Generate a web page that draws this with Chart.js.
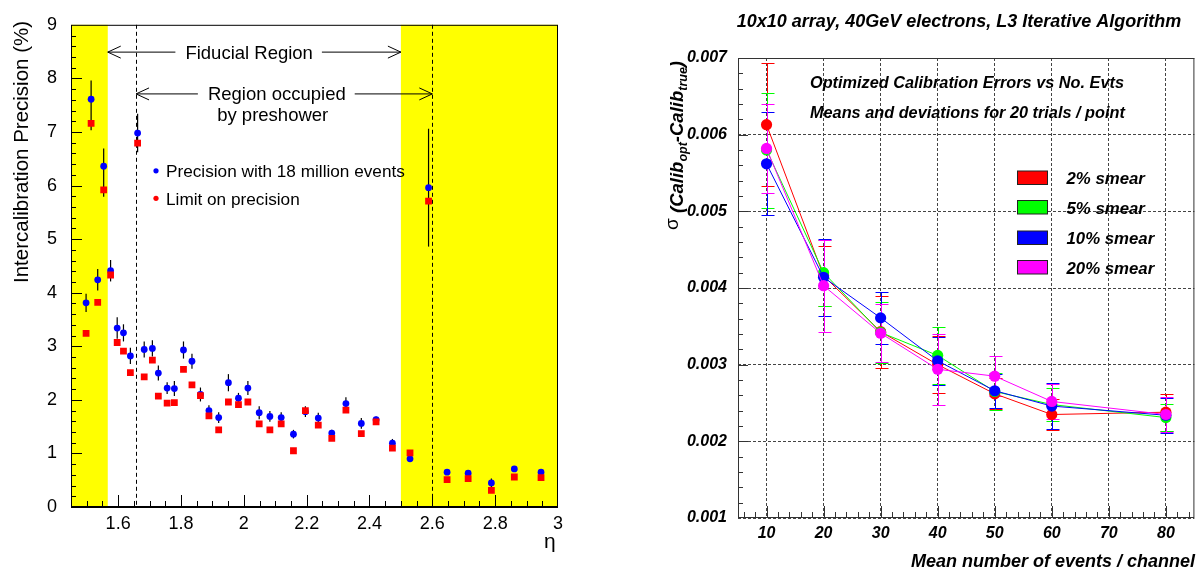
<!DOCTYPE html>
<html>
<head>
<meta charset="utf-8">
<title>Intercalibration precision / L3 iterative calibration</title>
<script src="https://cdn.jsdelivr.net/npm/chart.js@4.4.1/dist/chart.umd.min.js"></script>
<style>
  html, body { margin: 0; padding: 0; background: #fff; }
  #wrap { position: relative; width: 1200px; height: 569px; }
  canvas { position: absolute; top: 0; }
  #etaChart { left: 0; }
  #calibChart { left: 600px; }
</style>
</head>
<body>
<div id="wrap">
  <canvas id="etaChart" width="600" height="569"></canvas>
  <canvas id="calibChart" width="600" height="569"></canvas>
</div>
<script>
// ---- intercalibration precision vs eta ----
const etaValues = [1.498, 1.514, 1.535, 1.554, 1.576, 1.597, 1.617, 1.639, 1.662, 1.683,
  1.709, 1.728, 1.756, 1.779, 1.808, 1.835, 1.862, 1.889, 1.920, 1.951,
  1.983, 2.013, 2.049, 2.083, 2.119, 2.158, 2.196, 2.237, 2.280, 2.325,
  2.374, 2.421, 2.473, 2.529, 2.588, 2.647, 2.714, 2.788, 2.861, 2.946];
const precision18M = [3.81, 7.61, 4.24, 6.36, 4.41, 3.34, 3.25, 2.82, 6.98, 2.94,
  2.96, 2.50, 2.22, 2.21, 2.93, 2.72, 2.10, 1.80, 1.67, 2.32,
  2.03, 2.22, 1.76, 1.69, 1.67, 1.36, 1.78, 1.66, 1.38, 1.93,
  1.56, 1.63, 1.19, 0.90, 5.96, 0.65, 0.63, 0.45, 0.71, 0.65];
const precisionLimit = [3.24, 7.16, 3.82, 5.92, 4.33, 3.07, 2.91, 2.51, 6.79, 2.43,
  2.74, 2.07, 1.94, 1.95, 2.57, 2.28, 2.08, 1.70, 1.44, 1.96,
  1.91, 1.96, 1.55, 1.44, 1.55, 1.05, 1.80, 1.53, 1.28, 1.81,
  1.37, 1.59, 1.10, 1.01, 5.71, 0.51, 0.53, 0.31, 0.56, 0.55];
const precisionErrUp = [0.17, 0.35, 0.20, 0.33, 0.20, 0.20, 0.16, 0.15, 0.36, 0.15,
  0.15, 0.14, 0.11, 0.14, 0.16, 0.14, 0.13, 0.10, 0.10, 0.16,
  0.10, 0.13, 0.12, 0.10, 0.10, 0.08, 0.10, 0.10, 0.06, 0.12,
  0.10, 0.06, 0.08, 0.05, 1.10, 0.04, 0.03, 0.08, 0.04, 0.04];
const precisionErrDown = [0.17, 0.58, 0.20, 0.57, 0.20, 0.20, 0.16, 0.15, 0.36, 0.15,
  0.15, 0.14, 0.11, 0.14, 0.16, 0.14, 0.13, 0.10, 0.10, 0.16,
  0.10, 0.13, 0.12, 0.10, 0.10, 0.08, 0.10, 0.10, 0.06, 0.12,
  0.10, 0.06, 0.08, 0.05, 1.10, 0.04, 0.03, 0.08, 0.04, 0.04];
const etaTicks = [1.6, 1.8, 2.0, 2.2, 2.4, 2.6, 2.8, 3.0];
const precisionTicks = [0, 1, 2, 3, 4, 5, 6, 7, 8, 9];
const yellowBands = [[1.45, 1.567], [2.5, 3.0]];
const fiducialRange = [1.567, 2.5];
const preshowerRange = [1.657, 2.6];

// ---- L3 iterative algorithm, 10x10 array, 40GeV electrons ----
const eventsPerChannel = [10, 20, 30, 40, 50, 60, 80];
const smearLabels = ['2% smear', '5% smear', '10% smear', '20% smear'];
const smear2 = [0.00613, 0.00416, 0.00343, 0.00300, 0.00262, 0.00235, 0.00238];
const smear5 = [0.00580, 0.00420, 0.00342, 0.00312, 0.00265, 0.00248, 0.00231];
const smear10 = [0.00562, 0.00414, 0.00361, 0.00305, 0.00266, 0.00246, 0.00234];
const smear20 = [0.00582, 0.00403, 0.00341, 0.00294, 0.00285, 0.00252, 0.00235];
const smear2Err = [0.00080, 0.00039, 0.00047, 0.00037, 0.00020, 0.00020, 0.00024];
const smear5Err = [0.00075, 0.00043, 0.00040, 0.00037, 0.00024, 0.00022, 0.00018];
const smear10Err = [0.00067, 0.00050, 0.00034, 0.00031, 0.00022, 0.00030, 0.00023];
const smear20Err = [0.00058, 0.00060, 0.00038, 0.00046, 0.00026, 0.00023, 0.00023];
const eventTicks = [10, 20, 30, 40, 50, 60, 70, 80];
const sigmaTicks = [0.001, 0.002, 0.003, 0.004, 0.005, 0.006, 0.007];

const smearColors = ['#ff0000', '#00ff00', '#0000ff', '#ff00ff'];
const SANS = '"Liberation Sans", Arial, Helvetica, sans-serif';

function font(size, bold, italic) {
  return (italic ? 'italic ' : '') + (bold ? 'bold ' : '') + size + 'px ' + SANS;
}

function fixedTicks(values) {
  return scale => { scale.ticks = values.map(v => ({ value: v })); };
}

function line(ctx, x1, y1, x2, y2) {
  ctx.beginPath();
  ctx.moveTo(x1, y1);
  ctx.lineTo(x2, y2);
  ctx.stroke();
}

// calls fn for every minor step between min and max (ends excluded)
function eachTick(min, max, step, majorStep, fn) {
  const k0 = Math.ceil(min / step - 1e-6), k1 = Math.floor(max / step + 1e-6);
  for (let k = k0; k <= k1; k++) {
    const v = k * step;
    if (Math.abs(v - min) < step * 1e-3 || Math.abs(v - max) < step * 1e-3) continue;
    const r = v / majorStep;
    fn(v, Math.abs(r - Math.round(r)) < 1e-6);
  }
}

function arrowHead(ctx, tipX, tipY, dir) {
  ctx.beginPath();
  ctx.moveTo(tipX - dir * 13, tipY - 6);
  ctx.lineTo(tipX, tipY);
  ctx.lineTo(tipX - dir * 13, tipY + 6);
  ctx.stroke();
}

function labelledArrow(ctx, xFrom, xTo, yPix, text, textX) {
  const w = ctx.measureText(text).width;
  ctx.textAlign = 'center';
  ctx.fillText(text, textX, yPix + 6.5);
  line(ctx, xFrom, yPix, textX - w / 2 - 10, yPix);
  line(ctx, textX + w / 2 + 9, yPix, xTo, yPix);
  arrowHead(ctx, xFrom, yPix, -1);
  arrowHead(ctx, xTo, yPix, 1);
}

const etaDecor = {
  id: 'etaDecor',
  beforeDatasetsDraw(chart) {
    const { ctx, chartArea: a, scales: { x, y } } = chart;
    ctx.save();
    ctx.fillStyle = '#ffff00';
    yellowBands.forEach(([from, to]) => {
      const x1 = x.getPixelForValue(from), x2 = x.getPixelForValue(to);
      ctx.fillRect(x1, a.top, x2 - x1, a.bottom - a.top);
    });
    ctx.strokeStyle = '#000';
    ctx.lineWidth = 1;
    ctx.setLineDash([4, 3]);
    preshowerRange.forEach(v => {
      const px = Math.round(x.getPixelForValue(v)) + 0.5;
      line(ctx, px, a.top, px, a.bottom);
    });
    ctx.setLineDash([]);
    ctx.lineWidth = 1.2;
    etaValues.forEach((eta, i) => {
      const px = x.getPixelForValue(eta);
      line(ctx, px, y.getPixelForValue(precision18M[i] + precisionErrUp[i]),
        px, y.getPixelForValue(precision18M[i] - precisionErrDown[i]));
    });
    ctx.restore();
  },
  afterDraw(chart) {
    const { ctx, chartArea: a, scales: { x, y } } = chart;
    ctx.save();
    ctx.strokeStyle = '#000';
    ctx.fillStyle = '#000';
    ctx.lineWidth = 1;
    eachTick(x.min, x.max, 0.05, 0.2, (v, major) => {
      const px = Math.round(x.getPixelForValue(v)) + 0.5;
      line(ctx, px, a.bottom, px, a.bottom - (major ? 12 : 6));
    });
    eachTick(y.min, y.max, 0.2, 1, (v, major) => {
      const py = Math.round(y.getPixelForValue(v)) + 0.5;
      line(ctx, a.left, py, a.left + (major ? 11 : 5), py);
    });
    ctx.strokeRect(a.left + 0.5, a.top + 0.5, a.right - a.left - 1, a.bottom - a.top - 1);
    ctx.lineWidth = 2;
    line(ctx, a.left, a.bottom, a.right, a.bottom);

    // region annotations
    ctx.lineWidth = 1;
    ctx.font = font(18.5);
    labelledArrow(ctx, x.getPixelForValue(fiducialRange[0]), x.getPixelForValue(fiducialRange[1]),
      y.getPixelForValue(8.49), 'Fiducial Region', x.getPixelForValue(2.017));
    labelledArrow(ctx, x.getPixelForValue(preshowerRange[0]), x.getPixelForValue(preshowerRange[1]),
      y.getPixelForValue(7.71), 'Region occupied', x.getPixelForValue(2.105));
    ctx.fillText('by preshower', x.getPixelForValue(2.092), y.getPixelForValue(7.71) + 27.5);

    // legend
    const lx = a.left + 85, ly = a.top + 146;
    ctx.fillStyle = '#0000ff';
    ctx.beginPath(); ctx.arc(lx, ly, 2.6, 0, Math.PI * 2); ctx.fill();
    ctx.fillStyle = '#ff0000';
    ctx.beginPath(); ctx.arc(lx, ly + 27.5, 2.6, 0, Math.PI * 2); ctx.fill();
    ctx.fillStyle = '#000';
    ctx.font = font(17.2);
    ctx.textAlign = 'left';
    ctx.fillText('Precision with 18 million events', lx + 10, ly + 6.5);
    ctx.fillText('Limit on precision', lx + 10, ly + 34);

    // axis titles
    ctx.font = font(21);
    ctx.fillText('\u03b7', a.right - 14, a.bottom + 41);
    ctx.font = font(20.5);
    ctx.translate(27.5, 283);
    ctx.rotate(-Math.PI / 2);
    ctx.fillText('Intercalibration Precision (%)', 0, 0);
    ctx.restore();
  }
};

new Chart(document.getElementById('etaChart'), {
  type: 'scatter',
  data: {
    datasets: [
      {
        label: 'Limit on precision',
        data: etaValues.map((eta, i) => ({ x: eta, y: precisionLimit[i] })),
        pointStyle: 'rect',
        pointRadius: 4.8,
        borderWidth: 0,
        backgroundColor: '#ff0000',
        order: 1
      },
      {
        label: 'Precision with 18 million events',
        data: etaValues.map((eta, i) => ({ x: eta, y: precision18M[i] })),
        pointStyle: 'circle',
        pointRadius: 3.4,
        borderWidth: 0,
        backgroundColor: '#0000ff',
        order: 2
      }
    ]
  },
  options: {
    responsive: false,
    animation: false,
    events: [],
    layout: { padding: { left: 0, right: 42, top: 18, bottom: 0 } },
    plugins: { legend: { display: false }, tooltip: { enabled: false } },
    scales: {
      x: {
        type: 'linear',
        min: 1.45,
        max: 3.0,
        afterBuildTicks: fixedTicks(etaTicks),
        afterFit: s => { s.height = 62; },
        grid: { display: false, drawTicks: false },
        border: { display: false },
        ticks: {
          autoSkip: false, maxRotation: 0, padding: 6, color: '#000',
          font: { family: SANS, size: 18 },
          callback: v => String(+v.toFixed(2))
        }
      },
      y: {
        type: 'linear',
        min: 0,
        max: 9,
        afterBuildTicks: fixedTicks(precisionTicks),
        afterFit: s => { s.width = 71; },
        grid: { display: false, drawTicks: false },
        border: { display: false },
        ticks: {
          autoSkip: false, padding: 14, color: '#000',
          font: { family: SANS, size: 18 },
          callback: v => String(v)
        }
      }
    }
  },
  plugins: [etaDecor]
});

// ---- right panel ----
const smearSeries = [smear2, smear5, smear10, smear20];
const smearErrors = [smear2Err, smear5Err, smear10Err, smear20Err];

const calibDecor = {
  id: 'calibDecor',
  beforeDatasetsDraw(chart) {
    const { ctx, scales: { x, y } } = chart;
    ctx.save();
    ctx.lineWidth = 1;
    smearSeries.forEach((series, k) => {
      ctx.strokeStyle = smearColors[k];
      eventsPerChannel.forEach((n, i) => {
        const px = Math.round(x.getPixelForValue(n)) + 0.5;
        const yt = Math.round(y.getPixelForValue(series[i] + smearErrors[k][i])) + 0.5;
        const yb = Math.round(y.getPixelForValue(series[i] - smearErrors[k][i])) + 0.5;
        line(ctx, px, yt, px, yb);
        line(ctx, px - 6, yt, px + 7, yt);
        line(ctx, px - 6, yb, px + 7, yb);
      });
    });
    ctx.restore();
  },
  afterDraw(chart) {
    const { ctx, chartArea: a, scales: { x, y } } = chart;
    ctx.save();
    ctx.strokeStyle = '#333';
    ctx.lineWidth = 1;
    eachTick(x.min, x.max, 2, 10, (v, major) => {
      const px = Math.round(x.getPixelForValue(v)) + 0.5;
      line(ctx, px, a.bottom, px, a.bottom - (major ? 12 : 6));
    });
    eachTick(y.min, y.max, 0.0002, 0.001, (v, major) => {
      const py = Math.round(y.getPixelForValue(v)) + 0.5;
      line(ctx, a.left, py, a.left + (major ? 10 : 5), py);
    });
    ctx.strokeRect(a.left + 0.5, a.top + 0.5, a.right - a.left - 1, a.bottom - a.top - 1);

    ctx.fillStyle = '#000';
    ctx.textAlign = 'center';
    ctx.font = font(18, true, true);
    ctx.fillText('10x10 array, 40GeV electrons, L3 Iterative Algorithm', 359, 26.5);

    ctx.textAlign = 'left';
    ctx.font = font(16.3, true, true);
    ctx.fillText('Optimized Calibration Errors vs No. Evts', 210, 87.5);
    ctx.fillText('Means and deviations for 20 trials / point', 210, 118);

    // legend boxes
    const legendTops = [171, 200.5, 231, 260.5];
    ctx.font = font(16.8, true, true);
    smearLabels.forEach((label, k) => {
      ctx.fillStyle = smearColors[k];
      ctx.fillRect(417.5, legendTops[k], 30, 13.5);
      ctx.strokeStyle = '#222';
      ctx.strokeRect(417.5, legendTops[k], 30, 13.5);
      ctx.fillStyle = '#000';
      ctx.fillText(label, 466.5, legendTops[k] + 13);
    });

    // axis titles
    ctx.textAlign = 'right';
    ctx.font = font(18, true, true);
    ctx.fillText('Mean number of events / channel', 595, 567);

    ctx.translate(83, 230);
    ctx.rotate(-Math.PI / 2);
    ctx.textAlign = 'left';
    const parts = [
      ['\u03c3 ', font(19), -5],
      ['(Calib', font(18.5, true, true), 0],
      ['opt', font(12.5, true, true), 4],
      ['-Calib', font(18.5, true, true), 0],
      ['true', font(12.5, true, true), 4],
      [')', font(18.5, true, true), 0]
    ];
    let cx = 0;
    parts.forEach(([t, f, dy]) => {
      ctx.font = f;
      ctx.fillText(t, cx, dy);
      cx += ctx.measureText(t).width;
    });
    ctx.restore();
  }
};

new Chart(document.getElementById('calibChart'), {
  type: 'line',
  data: {
    datasets: smearSeries.map((series, k) => ({
      label: smearLabels[k],
      data: eventsPerChannel.map((n, i) => ({ x: n, y: series[i] })),
      borderColor: smearColors[k],
      backgroundColor: smearColors[k],
      borderWidth: 1,
      pointRadius: 5.6,
      pointBorderWidth: 0,
      tension: 0,
      order: 4 - k
    }))
  },
  options: {
    responsive: false,
    animation: false,
    events: [],
    layout: { padding: { left: 0, right: 4, top: 58, bottom: 0 } },
    plugins: { legend: { display: false }, tooltip: { enabled: false } },
    scales: {
      x: {
        type: 'linear',
        min: 5,
        max: 85,
        afterBuildTicks: fixedTicks(eventTicks),
        afterFit: s => { s.height = 51; },
        grid: { color: '#444', lineWidth: 1, drawTicks: false },
        border: { display: false, dash: [3, 2] },
        ticks: {
          autoSkip: false, maxRotation: 0, padding: 6, color: '#000',
          font: { family: SANS, size: 16, weight: 'bold', style: 'italic' },
          callback: v => String(v)
        }
      },
      y: {
        type: 'linear',
        min: 0.001,
        max: 0.007,
        afterBuildTicks: fixedTicks(sigmaTicks),
        afterFit: s => { s.width = 138; },
        grid: { color: '#444', lineWidth: 1, drawTicks: false },
        border: { display: false, dash: [3, 2] },
        ticks: {
          autoSkip: false, padding: 11, color: '#000',
          font: { family: SANS, size: 16, weight: 'bold', style: 'italic' },
          callback: v => v.toFixed(3)
        }
      }
    }
  },
  plugins: [calibDecor]
});
</script>
</body>
</html>
